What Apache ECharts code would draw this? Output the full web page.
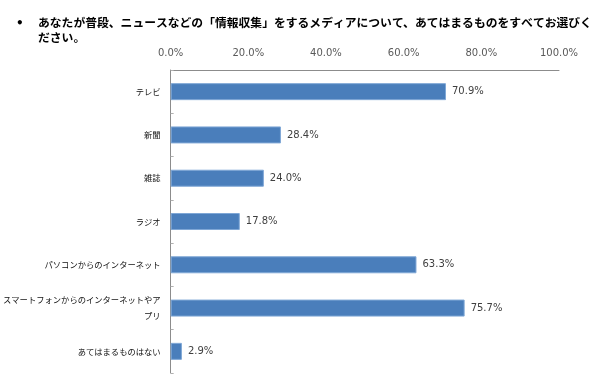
<!DOCTYPE html>
<html>
<head>
<meta charset="utf-8">
<script src="https://cdn.jsdelivr.net/npm/echarts@6/dist/echarts.min.js"></script>
<style>html,body{margin:0;padding:0;background:#fff}#c{width:600px;height:382px}</style>
</head>
<body>
<div id="c"></div>
<script>
const titleLines = ['あなたが普段、ニュースなどの「情報収集」をするメディアについて、あてはまるものをすべてお選びく', 'ださい。'];
const categories = ['テレビ', '新聞', '雑誌', 'ラジオ', 'パソコンからのインターネット', 'スマートフォンからのインターネットやア\nプリ', 'あてはまるものはない'];
const values = [70.9, 28.4, 24.0, 17.8, 63.3, 75.7, 2.9];
const xTicks = [0, 20, 40, 60, 80, 100];

const chart = echarts.init(document.getElementById('c'), null, {renderer: 'canvas'});
const titleStyle = {fontFamily: 'Noto Sans CJK JP', fontSize: 11.8, fontWeight: 'bold', color: '#000'};
chart.setOption({
  backgroundColor: '#fff',
  animation: false,
  title: [{
    text: titleLines[0], left: 38, top: 17, padding: 0, textStyle: titleStyle
  }, {
    text: titleLines[1], left: 38, top: 31.5, padding: 0, textStyle: titleStyle
  }, {
    text: '•', left: 16, top: 18, padding: 0,
    textStyle: {fontFamily: 'DejaVu Sans', fontSize: 12, fontWeight: 'bold', color: '#000'}
  }],
  grid: {left: 168, right: 41, top: 70, bottom: 9, containLabel: false},
  xAxis: {
    type: 'value', position: 'top', min: xTicks[0], max: xTicks[xTicks.length - 1], interval: xTicks[1] - xTicks[0],
    axisLine: {show: true, lineStyle: {color: '#8c8c8c', width: 1}},
    axisTick: {show: false},
    splitLine: {show: false},
    axisLabel: {margin: 12, fontFamily: 'DejaVu Sans', fontSize: 10, color: '#595959',
      formatter: v => v.toFixed(1) + '%'}
  },
  yAxis: {
    type: 'category', inverse: true, data: categories,
    axisLine: {show: true, lineStyle: {color: '#8c8c8c', width: 1}},
    axisTick: {show: true, inside: true, length: 3, lineStyle: {color: '#b0b0b0'}},
    axisLabel: {margin: 10, fontFamily: 'Noto Sans CJK JP', fontSize: 8.3, color: '#111', lineHeight: 16}
  },
  series: [{
    type: 'bar', data: values, barWidth: 17,
    itemStyle: {color: '#4a7ebb', borderColor: '#7fa7d6', borderWidth: 1},
    label: {show: true, position: 'right', distance: 6, fontFamily: 'DejaVu Sans', fontSize: 10, color: '#404040',
      formatter: p => p.value.toFixed(1) + '%'}
  }]
});
</script>
</body>
</html>
